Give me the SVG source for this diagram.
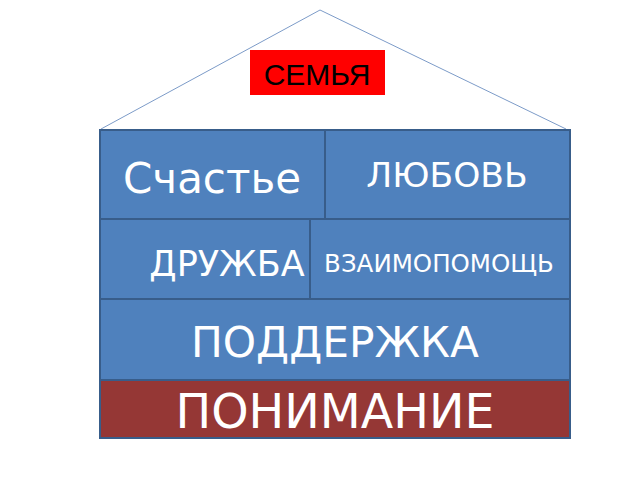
<svg xmlns="http://www.w3.org/2000/svg" width="640" height="480" viewBox="0 0 640 480">
<style>
.box{fill:#4F81BD;stroke:#385D8A;stroke-width:2}
.t{fill:#fff;font-family:"DejaVu Sans","Open Sans",sans-serif;text-anchor:middle}
</style>
<rect width="640" height="480" fill="#fff"/>
<g id="connectors">
<polyline points="101,129 320,10 566,129" fill="none" stroke="#7C9BC8" stroke-width="1"/>
</g>
<g id="semya">
<rect x="250" y="50" width="135" height="45" fill="#FF0000"/>
<text x="317" y="85" font-family="Liberation Sans,Arial,sans-serif" font-size="30" fill="#000" text-anchor="middle">СЕМЬЯ</text>
</g>
<g id="schastie">
<rect class="box" x="100" y="130" width="225" height="89"/>
<text class="t" x="212" y="193" font-size="42">Счастье</text>
</g>
<g id="lyubov">
<rect class="box" x="325" y="130" width="245" height="89"/>
<text class="t" x="447" y="187" font-size="34.5">ЛЮБОВЬ</text>
</g>
<g id="druzhba">
<rect class="box" x="100" y="219" width="210" height="80"/>
<text class="t" x="227" y="276" font-size="35">ДРУЖБА</text>
</g>
<g id="vzaimopomosch">
<rect class="box" x="310" y="219" width="260" height="80"/>
<text class="t" x="439" y="272" font-size="24.5">ВЗАИМОПОМОЩЬ</text>
</g>
<g id="podderzhka">
<rect class="box" x="100" y="299" width="470" height="81"/>
<text class="t" x="335" y="357" font-size="42.3">ПОДДЕРЖКА</text>
</g>
<g id="ponimanie">
<rect x="100" y="380" width="470" height="58" fill="#953735" stroke="#385D8A" stroke-width="2"/>
<text class="t" x="335" y="428" font-size="47.5">ПОНИМАНИЕ</text>
</g>
</svg>
